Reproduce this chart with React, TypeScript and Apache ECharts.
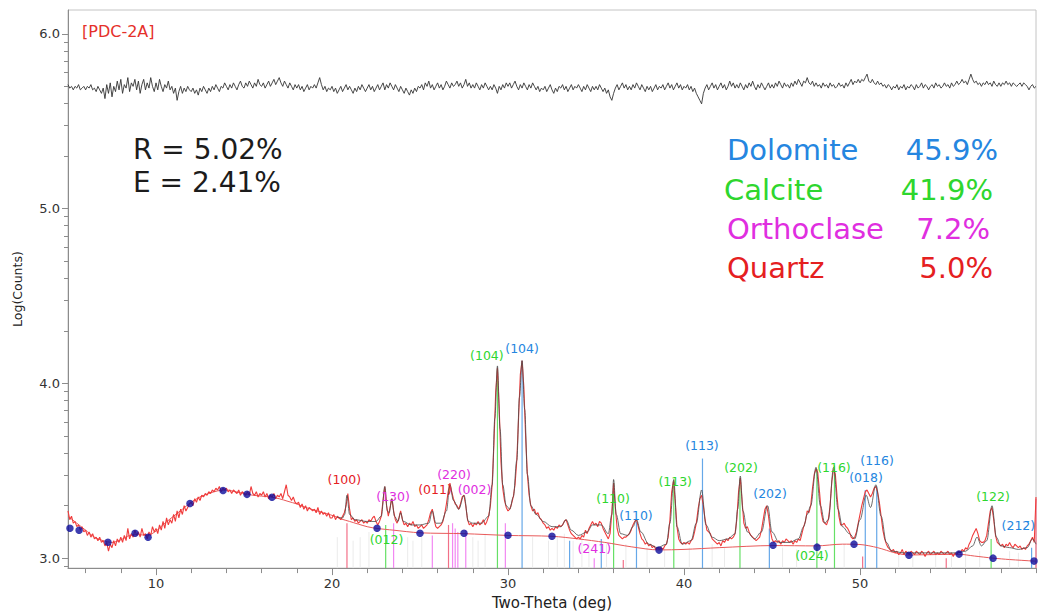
import React, { useEffect, useRef } from "react";
import * as echarts from "echarts";

// ---------- axis ranges / ticks ----------
const X_MIN = 5;
const X_MAX = 60;
const Y_MIN = 2.943;
const Y_MAX = 6.137;
const xTickLabels = [10, 20, 30, 40, 50];
const xMinorTicks = [6, 8, 12, 14, 16, 18, 22, 24, 26, 28, 32, 34, 36, 38, 42, 44, 46, 48, 52, 54, 56, 58, 60];
const yTickLabels = [3, 4, 5, 6];
const yMinorTicks = [
  2.954,
  3.301, 3.477, 3.602, 3.699, 3.778, 3.845, 3.903, 3.954,
  4.301, 4.477, 4.602, 4.699, 4.778, 4.845, 4.903, 4.954,
  5.301, 5.477, 5.602, 5.699, 5.778, 5.845, 5.903, 5.954,
];

// ---------- measured pattern (Log counts), 2θ from 5.0 step 0.1 ----------
const twoThetaStart = 5;
const twoThetaStep = 0.1;
const observedLog = [
  3.27, 3.22, 3.24, 3.20, 3.21, 3.18, 3.19, 3.16, 3.18, 3.15,
  3.16, 3.13, 3.15, 3.12, 3.14, 3.11, 3.12, 3.10, 3.12, 3.09,
  3.10, 3.07, 3.09, 3.04, 3.08, 3.06, 3.10, 3.07, 3.11, 3.09,
  3.12, 3.09, 3.13, 3.10, 3.17, 3.11, 3.14, 3.12, 3.16, 3.13,
  3.15, 3.12, 3.17, 3.13, 3.14, 3.11, 3.15, 3.13, 3.18, 3.15,
  3.17, 3.14, 3.19, 3.16, 3.21, 3.17, 3.23, 3.19, 3.22, 3.20,
  3.25, 3.21, 3.27, 3.23, 3.28, 3.25, 3.30, 3.27, 3.29, 3.31,
  3.32, 3.30, 3.34, 3.32, 3.35, 3.33, 3.36, 3.35, 3.37, 3.36,
  3.38, 3.37, 3.39, 3.38, 3.40, 3.39, 3.41, 3.38, 3.40, 3.39,
  3.40, 3.38, 3.39, 3.37, 3.39, 3.38, 3.37, 3.39, 3.36, 3.38,
  3.37, 3.36, 3.38, 3.36, 3.41, 3.37, 3.36, 3.38, 3.35, 3.37,
  3.36, 3.38, 3.35, 3.37, 3.34, 3.36, 3.35, 3.37, 3.34, 3.36,
  3.35, 3.37, 3.34, 3.38, 3.42, 3.36, 3.35, 3.33, 3.35, 3.32,
  3.31, 3.32, 3.29, 3.31, 3.28, 3.30, 3.27, 3.29, 3.28, 3.27,
  3.28, 3.26, 3.29, 3.25, 3.27, 3.25, 3.26, 3.24, 3.26, 3.23,
  3.23, 3.25, 3.22, 3.24, 3.23, 3.22, 3.24, 3.26, 3.30, 3.37,
  3.28, 3.22, 3.23, 3.21, 3.22, 3.20, 3.21, 3.22, 3.20, 3.21,
  3.20, 3.22, 3.21, 3.23, 3.24, 3.21, 3.19, 3.21, 3.24, 3.33,
  3.41, 3.30, 3.24, 3.29, 3.34, 3.27, 3.22, 3.20, 3.23, 3.27,
  3.22, 3.19, 3.20, 3.18, 3.20, 3.19, 3.21, 3.18, 3.19, 3.17,
  3.18, 3.19, 3.17, 3.18, 3.19, 3.22, 3.26, 3.28, 3.22, 3.18,
  3.17, 3.18, 3.19, 3.21, 3.25, 3.31, 3.38, 3.43, 3.38, 3.34,
  3.31, 3.30, 3.28, 3.31, 3.35, 3.36, 3.30, 3.22, 3.19, 3.20,
  3.18, 3.20, 3.19, 3.21, 3.19, 3.20, 3.22, 3.19, 3.21, 3.24,
  3.30, 3.42, 3.65, 3.95, 4.09, 3.86, 3.55, 3.40, 3.33, 3.29,
  3.27, 3.28, 3.31, 3.35, 3.42, 3.56, 3.80, 4.05, 4.13, 3.98,
  3.70, 3.48, 3.36, 3.30, 3.27, 3.28, 3.25, 3.26, 3.23, 3.22,
  3.20, 3.19, 3.17, 3.18, 3.16, 3.17, 3.16, 3.18, 3.17, 3.19,
  3.18, 3.19, 3.21, 3.22, 3.19, 3.16, 3.14, 3.13, 3.12, 3.11,
  3.12, 3.11, 3.13, 3.12, 3.16, 3.14, 3.17, 3.19, 3.21, 3.19,
  3.20, 3.18, 3.21, 3.20, 3.17, 3.15, 3.13, 3.11, 3.14, 3.26,
  3.43, 3.29, 3.17, 3.13, 3.12, 3.11, 3.12, 3.12, 3.13, 3.14,
  3.16, 3.19, 3.21, 3.22, 3.18, 3.14, 3.11, 3.10, 3.08, 3.09,
  3.07, 3.08, 3.06, 3.07, 3.05, 3.06, 3.05, 3.06, 3.05, 3.07,
  3.08, 3.12, 3.22, 3.38, 3.44, 3.33, 3.18, 3.11, 3.09, 3.08,
  3.09, 3.08, 3.09, 3.08, 3.10, 3.11, 3.15, 3.20, 3.28, 3.34,
  3.36, 3.30, 3.22, 3.16, 3.15, 3.14, 3.11, 3.10, 3.09, 3.08,
  3.09, 3.07, 3.10, 3.09, 3.11, 3.10, 3.12, 3.11, 3.12, 3.14,
  3.22, 3.38, 3.46, 3.33, 3.20, 3.17, 3.18, 3.15, 3.13, 3.12,
  3.11, 3.10, 3.11, 3.12, 3.16, 3.22, 3.28, 3.30, 3.24, 3.16,
  3.11, 3.09, 3.10, 3.09, 3.10, 3.08, 3.10, 3.09, 3.11, 3.10,
  3.09, 3.10, 3.08, 3.10, 3.09, 3.11, 3.10, 3.14, 3.18, 3.21,
  3.27, 3.26, 3.30, 3.40, 3.48, 3.51, 3.49, 3.38, 3.26, 3.21,
  3.20, 3.19, 3.22, 3.30, 3.44, 3.51, 3.48, 3.35, 3.24, 3.19,
  3.19, 3.20, 3.18, 3.17, 3.15, 3.12, 3.11, 3.12, 3.15, 3.20,
  3.25, 3.30, 3.34, 3.38, 3.39, 3.37, 3.35, 3.37, 3.40, 3.41,
  3.38, 3.32, 3.24, 3.16, 3.11, 3.08, 3.06, 3.05, 3.04, 3.05,
  3.03, 3.04, 3.02, 3.03, 3.05, 3.02, 3.04, 3.03, 3.02, 3.04,
  3.03, 3.02, 3.04, 3.03, 3.02, 3.04, 3.03, 3.01, 3.03, 3.04,
  3.02, 3.03, 3.04, 3.02, 3.03, 3.02, 3.04, 3.03, 3.02, 3.03,
  3.04, 3.02, 3.03, 3.01, 3.03, 3.02, 3.04, 3.03, 3.05, 3.04,
  3.06, 3.05, 3.08, 3.10, 3.13, 3.15, 3.17, 3.14, 3.10, 3.09,
  3.09, 3.10, 3.13, 3.20, 3.27, 3.29, 3.22, 3.13, 3.09, 3.08,
  3.07, 3.08, 3.06, 3.08, 3.07, 3.09, 3.07, 3.06, 3.08, 3.07,
  3.06, 3.07, 3.05, 3.06, 3.05, 3.07, 3.08, 3.10, 3.12, 3.09,
  3.35,
];

// difference curve (offset, shown at the top), same 2θ grid
const differenceLog = [
  5.71, 5.69, 5.70, 5.68, 5.70, 5.69, 5.71, 5.68, 5.69, 5.70,
  5.68, 5.70, 5.69, 5.71, 5.68, 5.69, 5.67, 5.70, 5.68, 5.66,
  5.69, 5.63, 5.71, 5.66, 5.72, 5.64, 5.70, 5.67, 5.73, 5.68,
  5.74, 5.66, 5.71, 5.69, 5.75, 5.67, 5.72, 5.70, 5.74, 5.68,
  5.73, 5.66, 5.71, 5.74, 5.68, 5.72, 5.69, 5.75, 5.70, 5.67,
  5.72, 5.68, 5.74, 5.70, 5.67, 5.71, 5.69, 5.73, 5.68, 5.70,
  5.66, 5.69, 5.62, 5.67, 5.70, 5.66, 5.69, 5.67, 5.70, 5.68,
  5.67, 5.69, 5.66, 5.68, 5.65, 5.69, 5.67, 5.70, 5.68, 5.66,
  5.69, 5.67, 5.70, 5.68, 5.71, 5.69, 5.67, 5.70, 5.69, 5.72,
  5.70, 5.68, 5.71, 5.69, 5.72, 5.70, 5.68, 5.71, 5.73, 5.70,
  5.69, 5.72, 5.70, 5.73, 5.71, 5.69, 5.72, 5.70, 5.74, 5.71,
  5.70, 5.72, 5.69, 5.71, 5.73, 5.70, 5.72, 5.74, 5.71, 5.73,
  5.75, 5.72, 5.70, 5.73, 5.71, 5.69, 5.72, 5.70, 5.68, 5.71,
  5.69, 5.71, 5.68, 5.70, 5.67, 5.69, 5.71, 5.68, 5.70, 5.69,
  5.71, 5.69, 5.72, 5.75, 5.71, 5.68, 5.70, 5.67, 5.69, 5.68,
  5.70, 5.67, 5.69, 5.66, 5.68, 5.70, 5.67, 5.69, 5.71, 5.68,
  5.70, 5.68, 5.66, 5.69, 5.67, 5.70, 5.68, 5.71, 5.69, 5.67,
  5.69, 5.71, 5.68, 5.70, 5.67, 5.69, 5.71, 5.68, 5.70, 5.72,
  5.68, 5.71, 5.69, 5.72, 5.70, 5.68, 5.71, 5.69, 5.67, 5.70,
  5.68, 5.66, 5.69, 5.67, 5.65, 5.68, 5.66, 5.69, 5.67, 5.70,
  5.69, 5.71, 5.68, 5.72, 5.70, 5.73, 5.69, 5.71, 5.68, 5.70,
  5.72, 5.69, 5.71, 5.68, 5.70, 5.73, 5.71, 5.69, 5.72, 5.70,
  5.71, 5.73, 5.70, 5.72, 5.69, 5.71, 5.74, 5.70, 5.72, 5.69,
  5.71, 5.69, 5.72, 5.70, 5.68, 5.71, 5.69, 5.72, 5.70, 5.68,
  5.70, 5.68, 5.71, 5.69, 5.66, 5.70, 5.68, 5.71, 5.69, 5.72,
  5.70, 5.72, 5.69, 5.71, 5.73, 5.70, 5.68, 5.71, 5.69, 5.72,
  5.70, 5.68, 5.71, 5.69, 5.72, 5.70, 5.68, 5.70, 5.67, 5.69,
  5.68, 5.70, 5.67, 5.69, 5.71, 5.68, 5.66, 5.69, 5.67, 5.70,
  5.69, 5.71, 5.68, 5.70, 5.67, 5.69, 5.71, 5.68, 5.70, 5.69,
  5.71, 5.69, 5.67, 5.70, 5.68, 5.71, 5.69, 5.67, 5.70, 5.68,
  5.70, 5.68, 5.71, 5.69, 5.67, 5.69, 5.66, 5.68, 5.64, 5.62,
  5.66, 5.69, 5.71, 5.68, 5.70, 5.72, 5.69, 5.71, 5.68, 5.70,
  5.68, 5.71, 5.69, 5.72, 5.70, 5.68, 5.71, 5.69, 5.67, 5.70,
  5.68, 5.70, 5.67, 5.69, 5.71, 5.68, 5.70, 5.69, 5.71, 5.68,
  5.70, 5.72, 5.69, 5.71, 5.68, 5.70, 5.72, 5.69, 5.71, 5.68,
  5.70, 5.69, 5.71, 5.68, 5.70, 5.67, 5.69, 5.66, 5.64, 5.62,
  5.60, 5.66, 5.69, 5.71, 5.68, 5.70, 5.72, 5.69, 5.71, 5.68,
  5.70, 5.72, 5.69, 5.71, 5.68, 5.70, 5.73, 5.70, 5.72, 5.69,
  5.71, 5.69, 5.72, 5.70, 5.68, 5.71, 5.69, 5.72, 5.70, 5.73,
  5.70, 5.68, 5.71, 5.69, 5.72, 5.70, 5.68, 5.70, 5.72, 5.69,
  5.71, 5.69, 5.72, 5.70, 5.73, 5.71, 5.69, 5.72, 5.70, 5.71,
  5.69, 5.72, 5.70, 5.73, 5.71, 5.74, 5.72, 5.70, 5.73, 5.72,
  5.75, 5.72, 5.71, 5.73, 5.70, 5.72, 5.70, 5.71, 5.69, 5.72,
  5.70, 5.71, 5.69, 5.72, 5.70, 5.71, 5.69, 5.70, 5.72, 5.70,
  5.71, 5.69, 5.72, 5.70, 5.72, 5.74, 5.71, 5.73, 5.72, 5.74,
  5.72, 5.74, 5.73, 5.75, 5.77, 5.73, 5.72, 5.74, 5.72, 5.71,
  5.73, 5.71, 5.72, 5.70, 5.71, 5.69, 5.71, 5.70, 5.68, 5.70,
  5.69, 5.71, 5.68, 5.70, 5.69, 5.71, 5.68, 5.70, 5.69, 5.71,
  5.70, 5.68, 5.71, 5.69, 5.70, 5.72, 5.69, 5.71, 5.70, 5.68,
  5.70, 5.71, 5.69, 5.72, 5.70, 5.71, 5.69, 5.70, 5.72, 5.70,
  5.71, 5.69, 5.72, 5.70, 5.71, 5.73, 5.71, 5.72, 5.74, 5.72,
  5.73, 5.71, 5.74, 5.77, 5.74, 5.72, 5.73, 5.71, 5.72, 5.70,
  5.72, 5.71, 5.73, 5.71, 5.72, 5.70, 5.73, 5.71, 5.70, 5.72,
  5.70, 5.72, 5.71, 5.73, 5.71, 5.72, 5.70, 5.72, 5.71, 5.70,
  5.71, 5.72, 5.70, 5.72, 5.71, 5.70, 5.68, 5.70, 5.71, 5.69,
  5.70,
];

// calculated (fitted) profile [2θ, log counts]
const calculatedProfile: [number, number][] = [
  [20.3, 3.235], [20.6, 3.23], [20.72, 3.25], [20.85, 3.36], [21.0, 3.25], [21.3, 3.22], [22.0, 3.21],
  [22.5, 3.21], [22.8, 3.24], [23.0, 3.41], [23.15, 3.27], [23.25, 3.26], [23.4, 3.34], [23.55, 3.24],
  [23.75, 3.21], [23.9, 3.26], [24.05, 3.21], [24.5, 3.19], [25.0, 3.19], [25.5, 3.20], [25.7, 3.27],
  [25.9, 3.20], [26.2, 3.20], [26.5, 3.27], [26.7, 3.42], [26.9, 3.33], [27.2, 3.28], [27.5, 3.36],
  [27.75, 3.21], [28.0, 3.20], [28.5, 3.20], [28.9, 3.24], [29.1, 3.42], [29.25, 3.80], [29.4, 4.10],
  [29.55, 3.74], [29.7, 3.42], [29.9, 3.30], [30.1, 3.28], [30.3, 3.35], [30.5, 3.56], [30.65, 3.92],
  [30.8, 4.13], [30.95, 3.85], [31.1, 3.48], [31.3, 3.30], [31.6, 3.25], [32.0, 3.21], [32.5, 3.18],
  [33.0, 3.18], [33.3, 3.22], [33.6, 3.16], [34.0, 3.13], [34.5, 3.15], [34.8, 3.19], [35.3, 3.19],
  [35.7, 3.14], [35.9, 3.25], [36.0, 3.45], [36.15, 3.25], [36.4, 3.14], [36.8, 3.13], [37.1, 3.18],
  [37.3, 3.22], [37.55, 3.15], [38.0, 3.08], [38.5, 3.06], [39.0, 3.08], [39.2, 3.20], [39.42, 3.45],
  [39.6, 3.18], [39.9, 3.08], [40.4, 3.10], [40.7, 3.20], [41.0, 3.39], [41.25, 3.19], [41.6, 3.12],
  [42.0, 3.10], [42.5, 3.11], [42.9, 3.14], [43.05, 3.28], [43.2, 3.47], [43.35, 3.27], [43.6, 3.15],
  [44.0, 3.11], [44.4, 3.15], [44.75, 3.30], [45.0, 3.15], [45.4, 3.09], [46.0, 3.09], [46.5, 3.11],
  [46.8, 3.18], [47.0, 3.25], [47.2, 3.30], [47.5, 3.52], [47.75, 3.30], [48.0, 3.20], [48.2, 3.22],
  [48.5, 3.52], [48.75, 3.28], [49.0, 3.18], [49.4, 3.14], [49.7, 3.11], [50.0, 3.22], [50.35, 3.36],
  [50.6, 3.29], [50.9, 3.42], [51.2, 3.24], [51.5, 3.09], [51.8, 3.04], [52.5, 3.03], [53.5, 3.03],
  [54.5, 3.03], [55.5, 3.03], [56.0, 3.04], [56.4, 3.07], [56.65, 3.12], [56.9, 3.07], [57.2, 3.10],
  [57.5, 3.30], [57.75, 3.12], [58.0, 3.07], [58.5, 3.06], [59.0, 3.05], [59.5, 3.06], [59.8, 3.11],
  [60.0, 3.08],
];

// refined background curve and its anchor points
const backgroundCurve: [number, number][] = [
  [5.0, 3.24], [5.5, 3.20], [6.0, 3.16], [6.5, 3.12], [7.0, 3.10], [7.5, 3.09], [8.0, 3.105],
  [8.5, 3.13], [9.0, 3.135], [9.5, 3.13], [10.0, 3.155], [10.5, 3.20], [11.0, 3.24], [11.5, 3.28],
  [12.0, 3.32], [12.5, 3.35], [13.0, 3.37], [13.5, 3.385], [14.0, 3.39], [14.5, 3.38], [15.0, 3.37],
  [15.5, 3.36], [16.0, 3.355], [16.5, 3.35], [17.0, 3.34], [17.5, 3.325], [18.0, 3.31], [18.5, 3.29],
  [19.0, 3.275], [19.5, 3.26], [20.0, 3.245], [20.5, 3.225], [21.0, 3.21], [22.0, 3.18], [22.56, 3.17],
  [23.5, 3.16], [25.0, 3.145], [27.5, 3.14], [30.0, 3.13], [32.5, 3.125], [34.0, 3.11], [35.5, 3.09],
  [37.0, 3.065], [38.58, 3.047], [40.0, 3.05], [42.0, 3.06], [45.06, 3.072], [47.5, 3.07], [49.0, 3.08],
  [50.0, 3.078], [51.0, 3.06], [52.0, 3.03], [52.78, 3.018], [54.0, 3.02], [55.63, 3.022], [56.5, 3.012],
  [57.56, 3.0], [58.5, 2.992], [59.89, 2.983], [60.0, 2.982],
];
const backgroundPoints: [number, number][] = [
  [5.11, 3.171], [5.63, 3.16], [7.27, 3.091], [8.81, 3.142], [9.55, 3.12], [11.93, 3.313],
  [13.81, 3.387], [15.17, 3.365], [16.59, 3.348], [22.56, 3.171], [25.0, 3.142], [27.5, 3.142],
  [30.0, 3.131], [32.5, 3.125], [38.58, 3.046], [45.06, 3.074], [47.56, 3.063], [49.66, 3.08],
  [52.78, 3.017], [55.63, 3.023], [57.56, 3.0], [59.89, 2.983],
];

// reflection sticks per phase [2θ, top]
const dolomiteSticks: [number, number][] = [
  [30.8, 4.13], [33.5, 3.10], [35.3, 3.11], [37.3, 3.21], [41.05, 3.57], [44.85, 3.17],
  [50.3, 3.39], [50.95, 3.41], [59.75, 3.06],
];
const calciteSticks: [number, number][] = [
  [23.05, 3.19], [29.4, 4.08], [36.0, 3.43], [39.42, 3.44], [43.18, 3.45], [47.55, 3.51],
  [48.55, 3.53], [57.45, 3.11],
];
const orthoclaseSticks: [number, number][] = [
  [23.5, 3.20], [25.7, 3.13], [26.85, 3.20], [27.0, 3.17], [27.15, 3.15], [27.6, 3.16],
  [29.85, 3.20], [34.9, 3.0],
];
const quartzSticks: [number, number][] = [
  [20.85, 3.20], [26.62, 3.19], [36.55, 2.99], [50.15, 3.01], [54.9, 3.0], [60.0, 3.34],
];
const otherSticks: [number, number][] = [
  [20.3, 3.12], [21.2, 3.10], [21.6, 3.12], [22.1, 3.15], [24.3, 3.12], [24.6, 3.10], [25.1, 3.14],
  [28.0, 3.12], [28.3, 3.10], [28.7, 3.14], [31.4, 3.12], [32.3, 3.10], [32.8, 3.12], [33.2, 3.14],
  [33.7, 3.10], [34.2, 3.12], [34.6, 3.09], [35.6, 3.08], [36.7, 3.08], [37.9, 3.06], [38.9, 3.08],
  [40.3, 3.06], [41.6, 3.08], [42.3, 3.06], [45.6, 3.06], [46.4, 3.05], [49.1, 3.08], [52.2, 3.04],
  [53.0, 3.03], [54.3, 3.03], [55.2, 3.03], [56.0, 3.04], [56.8, 3.04], [58.5, 3.04], [59.0, 3.03],
];

// phases
const phaseNames = ["Dolomite", "Calcite", "Orthoclase", "Quartz"];
const phaseFractions = ["45.9%", "41.9%", "7.2%", "5.0%"];
const phaseColors = ["#2586e0", "#2ed62e", "#e02ee0", "#e5201f"];
const stickColors = ["#66a8e8", "#66e066", "#f288f2", "#f27088"];

// hkl labels: [text, 2θ, y, phaseIndex]
const hklLabels: [string, number, number, number][] = [
  ["(100)", 20.7, 3.45, 3],
  ["(130)", 23.47, 3.35, 2],
  ["(012)", 23.1, 3.108, 1],
  ["(011)", 25.85, 3.393, 3],
  ["(220)", 26.93, 3.479, 2],
  ["(002)", 28.1, 3.393, 2],
  ["(104)", 28.8, 4.157, 1],
  ["(104)", 30.8, 4.202, 0],
  ["(241)", 34.9, 3.057, 2],
  ["(110)", 35.97, 3.342, 1],
  ["(110)", 37.27, 3.245, 0],
  ["(113)", 39.5, 3.439, 1],
  ["(113)", 41.02, 3.644, 0],
  ["(202)", 43.24, 3.519, 1],
  ["(202)", 44.89, 3.37, 0],
  ["(024)", 47.27, 3.017, 1],
  ["(116)", 48.52, 3.519, 1],
  ["(018)", 50.34, 3.46, 0],
  ["(116\u0304)", 50.97, 3.558, 0],
  ["(122)", 57.56, 3.353, 1],
  ["(212\u0304)", 59.0, 3.188, 0],
];

const FONT = '"DejaVu Sans", "Liberation Sans", Arial, sans-serif';

function stickSeries(data: [number, number][], color: string, width: number, z: number) {
  return {
    type: "custom",
    silent: true,
    z,
    data,
    renderItem: (params: any, api: any) => {
      const x = api.value(0);
      const top = api.value(1);
      const p1 = api.coord([x, Y_MIN]);
      const p2 = api.coord([x, top]);
      return {
        type: "line",
        shape: { x1: p1[0], y1: p1[1], x2: p2[0], y2: p2[1] },
        style: { stroke: color, lineWidth: width },
      };
    },
  };
}

export default function App() {
  const ref = useRef<HTMLDivElement>(null);

  useEffect(() => {
    if (!ref.current) return;
    const chart = echarts.init(ref.current, undefined, { renderer: "svg" });

    const observed = observedLog.map((v, i) => [+(twoThetaStart + i * twoThetaStep).toFixed(2), v]);
    const difference = differenceLog.map((v, i) => [+(twoThetaStart + i * twoThetaStep).toFixed(2), v]);

    const graphics: any[] = [
      {
        type: "text", x: 82, y: 31,
        style: { text: "[PDC-2A]", fill: "#e5302a", fontSize: 16, fontFamily: FONT, align: "left", verticalAlign: "middle" },
      },
      {
        type: "text", x: 133, y: 149,
        style: { text: "R = 5.02%", fill: "#1c1c1c", fontSize: 28, fontFamily: FONT, align: "left", verticalAlign: "middle" },
      },
      {
        type: "text", x: 133, y: 182,
        style: { text: "E = 2.41%", fill: "#1c1c1c", fontSize: 28, fontFamily: FONT, align: "left", verticalAlign: "middle" },
      },
    ];
    const legendY = [150, 190, 229, 268];
    const legendNameX = [727, 724, 727, 727];
    const legendPctX = [998, 993, 990, 993];
    phaseNames.forEach((n, i) => {
      graphics.push({
        type: "text", x: legendNameX[i], y: legendY[i],
        style: { text: n, fill: phaseColors[i], fontSize: 29, fontFamily: FONT, align: "left", verticalAlign: "middle" },
      });
      graphics.push({
        type: "text", x: legendPctX[i], y: legendY[i],
        style: { text: phaseFractions[i], fill: phaseColors[i], fontSize: 29, fontFamily: FONT, align: "right", verticalAlign: "middle" },
      });
    });

    const axisColor = "#8c8c8c";

    chart.setOption({
      animation: false,
      textStyle: { fontFamily: FONT },
      grid: {
        left: 68, right: 3, top: 10, bottom: 45,
        show: true, borderColor: "#c4c4c4", borderWidth: 1, backgroundColor: "#fff",
      },
      xAxis: [
        {
          type: "value", min: X_MIN, max: X_MAX,
          axisLine: { show: true, lineStyle: { color: axisColor } },
          axisTick: { show: true, customValues: xTickLabels, length: 7, lineStyle: { color: axisColor } },
          axisLabel: { customValues: xTickLabels, fontSize: 13, color: "#333", margin: 9 },
          splitLine: { show: false },
          name: "Two-Theta (deg)", nameLocation: "middle", nameGap: 26,
          nameTextStyle: { fontSize: 15, color: "#222" },
        },
        {
          type: "value", min: X_MIN, max: X_MAX, position: "bottom",
          axisLine: { show: false },
          axisTick: { show: true, customValues: xMinorTicks, length: 5, lineStyle: { color: axisColor } },
          axisLabel: { show: false },
          splitLine: { show: false },
        },
      ],
      yAxis: [
        {
          type: "value", min: Y_MIN, max: Y_MAX,
          axisLine: { show: true, lineStyle: { color: axisColor } },
          axisTick: { show: true, customValues: yTickLabels, length: 6, lineStyle: { color: axisColor } },
          axisLabel: { customValues: yTickLabels, formatter: (v: number) => v.toFixed(1), fontSize: 13, color: "#333", margin: 8 },
          splitLine: { show: false },
          name: "Log(Counts)", nameLocation: "middle", nameGap: 44,
          nameTextStyle: { fontSize: 12.5, color: "#222" },
        },
        {
          type: "value", min: Y_MIN, max: Y_MAX, position: "left",
          axisLine: { show: false },
          axisTick: { show: true, customValues: yMinorTicks, length: 4, lineStyle: { color: axisColor } },
          axisLabel: { show: false },
          splitLine: { show: false },
        },
      ],
      graphic: graphics,
      series: [
        stickSeries(otherSticks, "#ebebeb", 1, 1),
        stickSeries(quartzSticks, stickColors[3], 1.2, 2),
        stickSeries(orthoclaseSticks, stickColors[2], 1.2, 2),
        stickSeries(calciteSticks, stickColors[1], 1.2, 2),
        stickSeries(dolomiteSticks, stickColors[0], 1.2, 2),
        {
          type: "line", data: backgroundCurve, smooth: 0.3, showSymbol: false, silent: true, z: 3,
          lineStyle: { color: "#e85a5a", width: 1 },
        },
        {
          type: "line", data: observed, showSymbol: false, silent: true, z: 4,
          lineStyle: { color: "#f03c3c", width: 1.1 },
        },
        {
          type: "line", data: calculatedProfile, smooth: 0.35, smoothMonotone: "x", showSymbol: false, silent: true, z: 5,
          lineStyle: { color: "#4a4a4a", width: 1, opacity: 0.8 },
        },
        {
          type: "scatter", data: backgroundPoints, symbolSize: 7.5, silent: true, z: 6,
          itemStyle: { color: "#0c0c9c" },
        },
        {
          type: "line", data: difference, showSymbol: false, silent: true, z: 4,
          lineStyle: { color: "#333", width: 0.9 },
        },
        {
          type: "custom", silent: true, z: 7,
          data: hklLabels.map((l) => [l[1], l[2]]),
          renderItem: (params: any, api: any) => {
            const l = hklLabels[params.dataIndex];
            const p = api.coord([api.value(0), api.value(1)]);
            return {
              type: "text",
              x: p[0], y: p[1],
              style: {
                text: l[0], fill: phaseColors[l[3]], fontSize: 12.5, fontFamily: FONT,
                align: "center", verticalAlign: "middle",
              },
            };
          },
        },
      ],
    });

    return () => chart.dispose();
  }, []);

  return (
    <div
      ref={ref}
      style={{ position: "fixed", left: 0, top: 0, width: 1039, height: 615, background: "#fff" }}
    />
  );
}
